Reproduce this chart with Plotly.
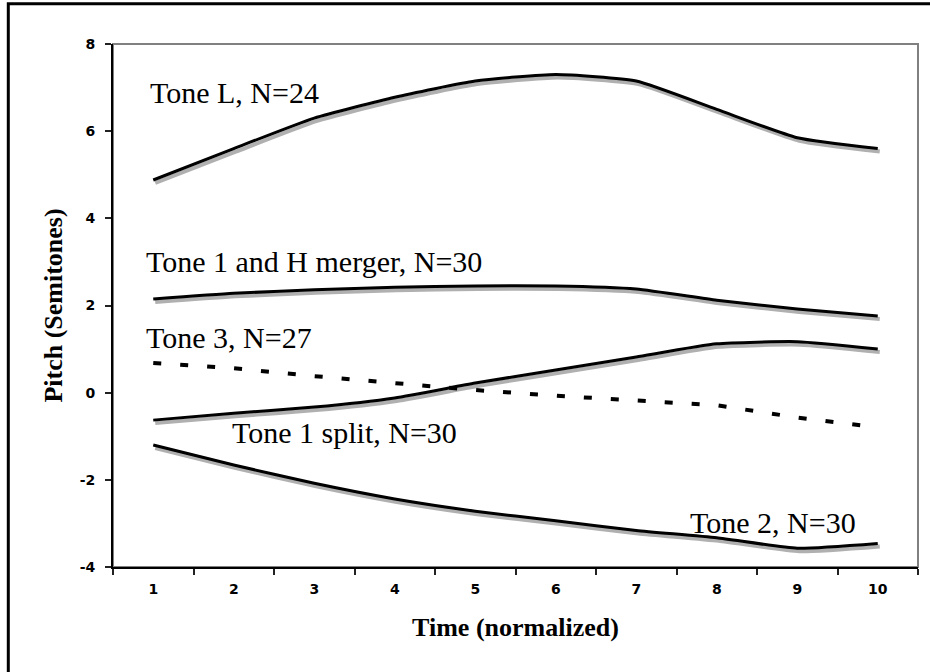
import plotly.graph_objects as go

# ---- data ----
time_labels = ["1", "2", "3", "4", "5", "6", "7", "8", "9", "10"]
tone_l = [4.88, 5.6, 6.3, 6.78, 7.15, 7.3, 7.15, 6.5, 5.85, 5.6]
tone1_h_merger = [2.15, 2.28, 2.36, 2.42, 2.45, 2.45, 2.38, 2.12, 1.92, 1.76]
tone3 = [0.68, 0.56, 0.38, 0.22, 0.06, -0.07, -0.17, -0.29, -0.57, -0.8]
tone1_split = [-0.63, -0.47, -0.33, -0.12, 0.22, 0.52, 0.82, 1.12, 1.17, 1.0]
tone2 = [-1.2, -1.66, -2.08, -2.44, -2.72, -2.94, -3.16, -3.33, -3.57, -3.46]
y_tick_vals = [-4, -2, 0, 2, 4, 6, 8]
y_tick_text = ["-4", "-2", "0", "2", "4", "6", "8"]
label_texts = ["Tone L, N=24", "Tone 1 and H merger, N=30", "Tone 3, N=27",
               "Tone 1 split, N=30", "Tone 2, N=30"]

solid_series = [tone_l, tone1_h_merger, tone1_split, tone2]

# pixel geometry of the plot area
PX_W = 805.0
PX_H = 522.4
Y_MIN, Y_MAX = -4, 8
n_cat = len(time_labels)
unit_x = PX_W / n_cat
unit_y = PX_H / (Y_MAX - Y_MIN)
sh_dx, sh_dy = 2.0, 3.0  # shadow offset in pixels

fig = go.Figure()

# shadows on (x, y) axes, whose ranges are shifted by a few pixels
for vals in solid_series:
    fig.add_trace(go.Scatter(
        x=time_labels, y=vals, mode="lines", xaxis="x", yaxis="y",
        line=dict(color="#b0b0b0", width=4, shape="spline", smoothing=0.5),
        hoverinfo="skip", showlegend=False))

# main lines on (x2, y2), the visible axes
for vals in solid_series:
    fig.add_trace(go.Scatter(
        x=time_labels, y=vals, mode="lines", xaxis="x2", yaxis="y2",
        line=dict(color="black", width=3, shape="spline", smoothing=0.5),
        showlegend=False))
fig.add_trace(go.Scatter(
    x=time_labels, y=tone3, mode="lines", xaxis="x2", yaxis="y2",
    line=dict(color="black", width=4, dash="8px,19px"),
    showlegend=False))

label_pos = [(-0.07, 6.88), (-0.11, 3.0), (-0.11, 1.27), (0.95, -0.905), (6.64, -2.97)]
annotations = []
for txt, (ax_, ay_) in zip(label_texts, label_pos):
    annotations.append(dict(
        text=txt, x=ax_, y=ay_, xref="x2", yref="y2", xanchor="left",
        yanchor="middle", showarrow=False,
        font=dict(family="Liberation Serif", size=30, color="black")))

tick_font = dict(family="DejaVu Sans", size=14, color="black", weight="bold")
title_font = dict(family="Liberation Serif", size=26, color="black", weight="bold")

fig.update_layout(
    width=930, height=672,
    margin=dict(l=113, r=12, t=44, b=105),
    paper_bgcolor="white", plot_bgcolor="white",
    showlegend=False,
    xaxis=dict(type="category", categoryorder="array", categoryarray=time_labels,
               range=[-0.5 - sh_dx / unit_x, n_cat - 0.5 - sh_dx / unit_x],
               visible=False, fixedrange=True),
    yaxis=dict(range=[Y_MIN + sh_dy / unit_y, Y_MAX + sh_dy / unit_y],
               visible=False, fixedrange=True),
    xaxis2=dict(type="category", categoryorder="array", categoryarray=time_labels,
                overlaying="x", anchor="y2", range=[-0.5, n_cat - 0.5],
                tickson="boundaries", ticks="outside", ticklen=6, tickwidth=2,
                tickcolor="#222", showline=True, linecolor="black", linewidth=2,
                showgrid=False, zeroline=False, tickfont=tick_font,
                ticklabelstandoff=8,
                title=dict(text="Time (normalized)", font=title_font, standoff=22)),
    yaxis2=dict(overlaying="y", anchor="x2", range=[Y_MIN, Y_MAX],
                tickvals=y_tick_vals, ticktext=y_tick_text,
                ticks="outside", ticklen=6, tickwidth=2, tickcolor="#222",
                showline=True, linecolor="black", linewidth=2,
                showgrid=False, zeroline=False, tickfont=tick_font,
                ticklabelstandoff=7,
                title=dict(text="Pitch (Semitones)", font=title_font, standoff=10)),
    annotations=annotations,
    shapes=[
        dict(type="rect", xref="paper", yref="paper", x0=0, x1=1, y0=0, y1=1,
             line=dict(color="#808080", width=2), layer="below"),
        dict(type="rect", xref="paper", yref="paper",
             x0=(8 - 112.7) / PX_W, x1=(950 - 112.7) / PX_W,
             y0=(566.7 - 690) / PX_H, y1=(566.7 - 4) / PX_H,
             line=dict(color="black", width=3), layer="above"),
    ],
)

fig.write_html("out.html")
